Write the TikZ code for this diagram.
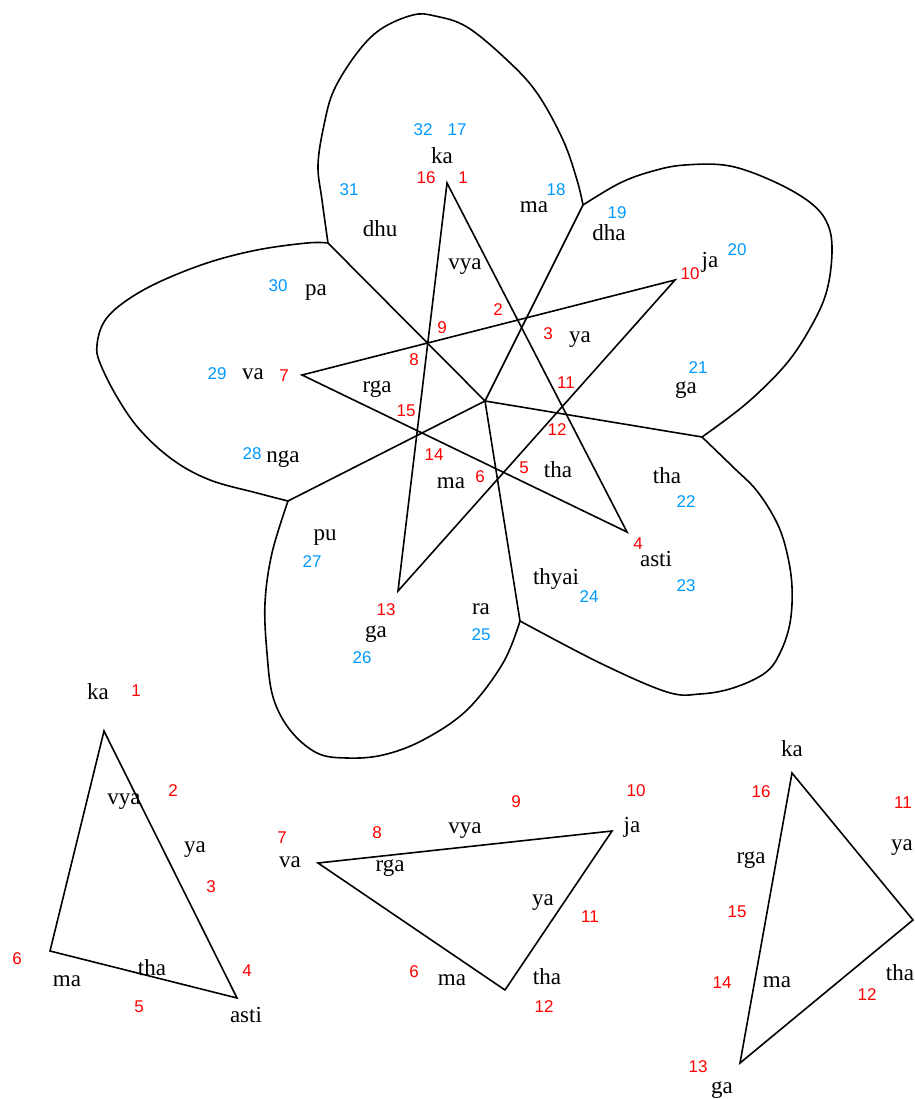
\documentclass[tikz,border=0pt]{standalone}
\usepackage{fontspec}
\setmainfont{Liberation Serif}
\newfontfamily\numfont{Liberation Sans}
\usepackage{xcolor}
\usepackage{tikz}
\definecolor{numred}{RGB}{255,0,0}
\definecolor{numblue}{RGB}{0,153,255}

\begin{document}
\begin{tikzpicture}[x=1pt, y=-1pt]
    \tikzstyle{syl} = [inner sep=0pt, font=\fontsize{23}{23}\selectfont]
    \tikzstyle{rnum} = [inner sep=0pt, text=numred, font=\numfont\fontsize{17}{17}\selectfont]
    \tikzstyle{bnum} = [inner sep=0pt, text=numblue, font=\numfont\fontsize{17}{17}\selectfont]
    \tikzstyle{edge} = [line width=1.6pt, line join=miter]
    \useasboundingbox (0,0) rectangle (914,1099);

    % Flower: centre, petal junctions, star points
    \coordinate (c) at (485,401);
    \coordinate (j1) at (583,205);
    \coordinate (j2) at (702,437);
    \coordinate (j3) at (520,621);
    \coordinate (j4) at (288,501);
    \coordinate (j5) at (328,243);
    \coordinate (pk) at (447,183);
    \coordinate (pj) at (675,280);
    \coordinate (pa) at (627,532);
    \coordinate (pg) at (398,591);
    \coordinate (pv) at (302,375);

    % Petals
    \draw [edge] plot [smooth, tension=0.6] coordinates {(328,243) (322,200) (318,165) (324,125) (334,90) (357,53) (381,29) (413,15) (435,16) (467,27) (507,60) (537,93) (563,140) (577,180) (583,205)};
    \draw [edge] plot [smooth, tension=0.6] coordinates {(583,205) (620,183) (653,171) (685,165) (730,166) (777,183) (812,204) (828,225) (832,252) (827,290) (813,323) (787,363) (747,403) (702,437)};
    \draw [edge] plot [smooth, tension=0.6] coordinates {(702,437) (733,467) (757,491) (777,523) (787,553) (792,587) (790,623) (780,653) (765,673) (733,688) (700,694) (667,692) (600,663) (520,621)};
    \draw [edge] plot [smooth, tension=0.6] coordinates {(520,621) (503,663) (467,710) (423,740) (383,755) (347,758) (317,753) (290,730) (273,697) (267,653) (265,603) (272,553) (288,501)};
    \draw [edge] plot [smooth, tension=0.6] coordinates {(288,501) (257,493) (210,480) (173,460) (140,430) (117,397) (100,363) (97,345) (104,322) (123,303) (157,283) (207,263) (257,250) (307,243) (328,243)};

    % Spokes and star
    \draw [edge] (c) -- (j1);
    \draw [edge] (c) -- (j2);
    \draw [edge] (c) -- (j3);
    \draw [edge] (c) -- (j4);
    \draw [edge] (c) -- (j5);
    \draw [edge] (pk) -- (pa) -- (pv) -- (pj) -- (pg) -- cycle;

    % Syllables in the flower
    \node [syl] (ka) at (442,156) {ka};
    \node [syl] (dhu) at (380,229) {dhu};
    \node [syl] (maTop) at (534,207) {ma};
    \node [syl] (dha) at (609,233) {dha};
    \node [syl] (ja) at (710,262) {ja};
    \node [syl] (vya) at (465,267) {vya};
    \node [syl] (paa) at (316,293) {pa};
    \node [syl] (ya) at (580,340) {ya};
    \node [syl] (va) at (253,374) {va};
    \node [syl] (rga) at (377,389) {rga};
    \node [syl] (gaRight) at (686,390) {ga};
    \node [syl] (nga) at (283,459) {nga};
    \node [syl] (maMid) at (451,483) {ma};
    \node [syl] (thaIn) at (558,470) {tha};
    \node [syl] (thaOut) at (667,476) {tha};
    \node [syl] (pu) at (325,538) {pu};
    \node [syl] (asti) at (656,559) {asti};
    \node [syl] (thyai) at (556,579) {thyai};
    \node [syl] (ra) at (481,609) {ra};
    \node [syl] (gaLow) at (376,634) {ga};

    % Red numbers in the flower
    \node [rnum] (r1) at (463,178) {1};
    \node [rnum] (r2) at (498,310) {2};
    \node [rnum] (r3) at (548,334) {3};
    \node [rnum] (r4) at (638,544) {4};
    \node [rnum] (r5) at (524,468) {5};
    \node [rnum] (r6) at (480,477) {6};
    \node [rnum] (r7) at (284,376) {7};
    \node [rnum] (r8) at (414,360) {8};
    \node [rnum] (r9) at (442,328) {9};
    \node [rnum] (r10) at (690,274) {10};
    \node [rnum] (r11) at (566,383) {11};
    \node [rnum] (r12) at (557,430) {12};
    \node [rnum] (r13) at (386,610) {13};
    \node [rnum] (r14) at (434,455) {14};
    \node [rnum] (r15) at (406,411) {15};
    \node [rnum] (r16) at (426,178) {16};

    % Blue numbers in the flower
    \node [bnum] (b17) at (457,130) {17};
    \node [bnum] (b18) at (556,190) {18};
    \node [bnum] (b19) at (617,213) {19};
    \node [bnum] (b20) at (737,250) {20};
    \node [bnum] (b21) at (698,368) {21};
    \node [bnum] (b22) at (686,502) {22};
    \node [bnum] (b23) at (686,586) {23};
    \node [bnum] (b24) at (589,597) {24};
    \node [bnum] (b25) at (481,635) {25};
    \node [bnum] (b26) at (362,658) {26};
    \node [bnum] (b27) at (312,562) {27};
    \node [bnum] (b28) at (252,454) {28};
    \node [bnum] (b29) at (217,374) {29};
    \node [bnum] (b30) at (278,286) {30};
    \node [bnum] (b31) at (349,190) {31};
    \node [bnum] (b32) at (423,130) {32};

    % First triangle
    \coordinate (ak) at (104,731);
    \coordinate (am) at (50,951);
    \coordinate (aa) at (237,998);
    \draw [edge] (ak) -- (am) -- (aa) -- cycle;
    \node [syl] (aka) at (98,692) {ka};
    \node [rnum] (a1) at (136,691) {1};
    \node [syl] (avya) at (124,802) {vya};
    \node [rnum] (a2) at (173,791) {2};
    \node [syl] (aya) at (195,850) {ya};
    \node [rnum] (a3) at (211,887) {3};
    \node [rnum] (a6) at (17,959) {6};
    \node [syl] (ama) at (67,981) {ma};
    \node [syl] (atha) at (152,968) {tha};
    \node [rnum] (a4) at (247,971) {4};
    \node [rnum] (a5) at (139,1007) {5};
    \node [syl] (aasti) at (246,1015) {asti};

    % Second triangle
    \coordinate (bv) at (318,863);
    \coordinate (bj) at (612,831);
    \coordinate (bt) at (505,990);
    \draw [edge] (bv) -- (bj) -- (bt) -- cycle;
    \node [rnum] (m7) at (282,838) {7};
    \node [syl] (mva) at (290,862) {va};
    \node [rnum] (m8) at (377,833) {8};
    \node [syl] (mvya) at (465,831) {vya};
    \node [rnum] (m9) at (516,802) {9};
    \node [rnum] (m10) at (636,791) {10};
    \node [syl] (mja) at (632,827) {ja};
    \node [syl] (mrga) at (390,868) {rga};
    \node [syl] (mya) at (543,903) {ya};
    \node [rnum] (m11) at (590,917) {11};
    \node [rnum] (m6) at (414,972) {6};
    \node [syl] (mma) at (452,980) {ma};
    \node [syl] (mtha) at (547,977) {tha};
    \node [rnum] (m12) at (544,1007) {12};

    % Third triangle
    \coordinate (ck) at (792,773);
    \coordinate (cr) at (913,920);
    \coordinate (cg) at (740,1063);
    \draw [edge] (ck) -- (cr) -- (cg) -- cycle;
    \node [syl] (cka) at (792,749) {ka};
    \node [rnum] (c16) at (761,792) {16};
    \node [rnum] (c11) at (903,803) {11};
    \node [syl] (cya) at (902,848) {ya};
    \node [syl] (crga) at (751,860) {rga};
    \node [rnum] (c15) at (737,912) {15};
    \node [rnum] (c14) at (722,983) {14};
    \node [syl] (cma) at (777,982) {ma};
    \node [syl] (ctha) at (900,973) {tha};
    \node [rnum] (c12) at (867,995) {12};
    \node [rnum] (c13) at (698,1067) {13};
    \node [syl] (cga) at (722,1090) {ga};
\end{tikzpicture}
\end{document}
